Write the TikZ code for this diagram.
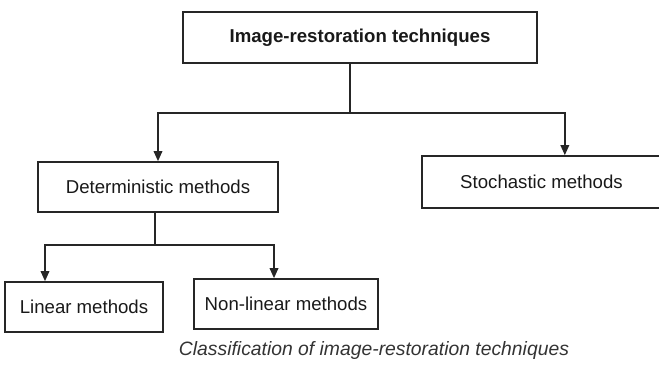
\documentclass[tikz,border=0pt]{standalone}
\usepackage{fontspec}
\setmainfont{Liberation Sans}
\usepackage{tikz}
\usetikzlibrary{arrows.meta,calc,positioning}
\colorlet{colorLine}{black!85}
\colorlet{colorText}{black!90}
\tikzset{
   every path/.style={>={Triangle[length=3mm,width=2.6mm]}},
   methodbox/.style={draw=colorLine, line width=1.5pt, text=colorText, inner sep=0pt,
                     minimum height=1.5cm, font=\fontsize{15.9}{19}\selectfont},
   arr/.style={->, draw=colorLine, line width=1.2pt},
   caption/.style={text=black!80, font=\fontsize{16.5}{20}\selectfont\itshape},
}
\begin{document}
\begin{tikzpicture}

\useasboundingbox (0,0) rectangle (19.77,-11.16);

% =========================================================
% root
% =========================================================

\node[methodbox, minimum width=10.62cm, minimum height=1.53cm, font=\fontsize{15.9}{19}\selectfont\bfseries]
   (root) at (10.8,-1.13) {Image-restoration techniques};

\coordinate (split1) at (10.5,-3.39);


% =========================================================
% second level
% =========================================================

\node[methodbox, minimum width=7.2cm] (det) at (4.74,-5.61) {Deterministic methods};
\node[methodbox, minimum width=7.17cm, minimum height=1.56cm] (sto) at (16.245,-5.46) {Stochastic methods};

\draw[line width=1.2pt, draw=colorLine] (root.south -| split1) -- (split1);
\draw[arr] (split1) -| (det.north);
\draw[arr] (split1) -| ([xshift=0.7cm]sto.north);


% =========================================================
% third level
% =========================================================

\node[methodbox, minimum width=4.74cm] (lin) at (2.52,-9.21) {Linear methods};
\node[methodbox, minimum width=5.52cm] (nonlin) at (8.58,-9.12) {Non-linear methods};

\coordinate (split2) at (4.65,-7.35);

\draw[line width=1.2pt, draw=colorLine] (det.south -| split2) -- (split2);
\draw[arr] (split2) -| ([xshift=-1.17cm]lin.north);
\draw[arr] (split2) -| ([xshift=-0.36cm]nonlin.north);


% =========================================================
% caption
% =========================================================

\node[caption] (cap) at (11.22,-10.5) {Classification of image-restoration techniques};

\end{tikzpicture}
\end{document}
